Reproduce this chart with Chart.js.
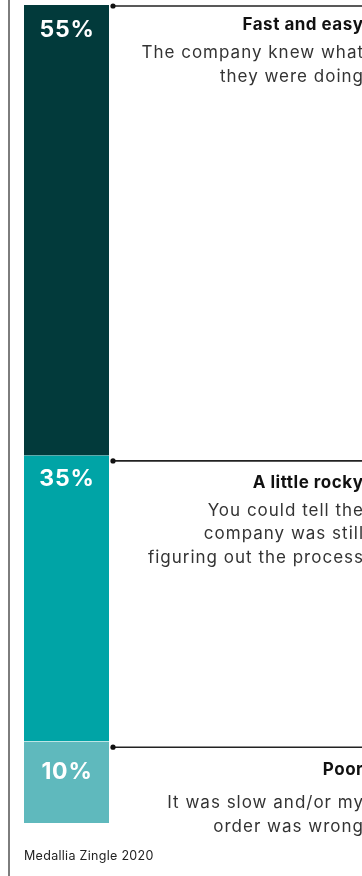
<!DOCTYPE html>
<html>
<head>
<meta charset="utf-8">
<script src="https://cdn.jsdelivr.net/npm/chart.js@4.4.1/dist/chart.umd.min.js"></script>
<style>
  html, body { margin: 0; padding: 0; background: #fff; }
  #wrap { position: relative; width: 362px; height: 876px; }
</style>
</head>
<body>
<div id="wrap"><canvas id="chart"></canvas></div>
<script>
// --- data ---
const categories = ['Fast and easy', 'A little rocky', 'Poor'];
const shares = [55, 35, 10];
const descriptions = [
    ['The company knew what', 'they were doing'],
    ['You could tell the', 'company was still', 'figuring out the process'],
    ['It was slow and/or my', 'order was wrong']
];
const source = 'Medallia Zingle 2020';

const colors = ['#023a3b', '#00a4a6', '#5fb9bd'];

// layout offsets (px) from the top of each segment
const lineOffset = [1, 6, 6];
const titleOffset = [25, 33, 34];
const descOffset = [53, 61, 67];
const pctOffset = [25.5, 24, 31];

const calloutPlugin = {
    id: 'callouts',
    afterDraw(chart) {
        const ctx = chart.ctx;
        const y = chart.scales.y;
        const area = chart.chartArea;
        const rightEdge = 362;
        ctx.save();

        // left rule
        ctx.fillStyle = '#7d7d7d';
        ctx.fillRect(8, 0, 2, chart.height);

        let start = 0;
        shares.forEach((v, i) => {
            const top = y.getPixelForValue(start);
            start += v;

            // percentage in bar
            ctx.fillStyle = '#ffffff';
            ctx.font = "bold 23px 'Inter', sans-serif";
            ctx.letterSpacing = '0.8px';
            ctx.textAlign = 'center';
            ctx.textBaseline = 'middle';
            ctx.fillText(v + '%', (area.left + area.right) / 2 + 0.5, top + pctOffset[i]);

            // connector line + dot
            const ly = top + lineOffset[i];
            ctx.strokeStyle = '#222';
            ctx.lineWidth = 1.6;
            ctx.beginPath();
            ctx.moveTo(area.right + 4, ly);
            ctx.lineTo(rightEdge, ly);
            ctx.stroke();
            ctx.fillStyle = '#111';
            ctx.beginPath();
            ctx.arc(area.right + 4, ly, 2.6, 0, Math.PI * 2);
            ctx.fill();

            // title
            ctx.textAlign = 'right';
            ctx.textBaseline = 'alphabetic';
            ctx.fillStyle = '#111';
            ctx.font = "bold 17px 'Inter', sans-serif";
            ctx.letterSpacing = '0.5px';
            ctx.fillText(categories[i], rightEdge + 1.5, top + titleOffset[i]);

            // description
            ctx.fillStyle = '#333';
            ctx.font = "17px 'Inter', sans-serif";
            ctx.letterSpacing = '1px';
            descriptions[i].forEach((line, k) => {
                ctx.fillText(line, rightEdge + 2, top + descOffset[i] + k * 23.5);
            });
        });

        // source
        ctx.textAlign = 'left';
        ctx.fillStyle = '#222';
        ctx.font = "12.5px 'Inter', sans-serif";
        ctx.letterSpacing = '0.3px';
        ctx.fillText(source, 24, 860);

        ctx.restore();
    }
};

new Chart(document.getElementById('chart'), {
    type: 'bar',
    data: {
        labels: [''],
        datasets: shares.map((v, i) => ({
            label: categories[i],
            data: [v],
            backgroundColor: colors[i],
            borderColor: 'rgba(255,255,255,0.85)',
            borderWidth: { top: i === 0 ? 0 : 1, left: 0, right: 0, bottom: 0 },
            borderSkipped: false,
            barPercentage: 1,
            categoryPercentage: 1
        }))
    },
    options: {
        responsive: true,
        maintainAspectRatio: false,
        animation: false,
        layout: { padding: { left: 24, right: 253, top: 5, bottom: 53 } },
        plugins: {
            legend: { display: false },
            tooltip: { enabled: false }
        },
        scales: {
            x: { stacked: true, display: false },
            y: { stacked: true, display: false, min: 0, max: 100, reverse: true }
        }
    },
    plugins: [calloutPlugin]
});
</script>
</body>
</html>
